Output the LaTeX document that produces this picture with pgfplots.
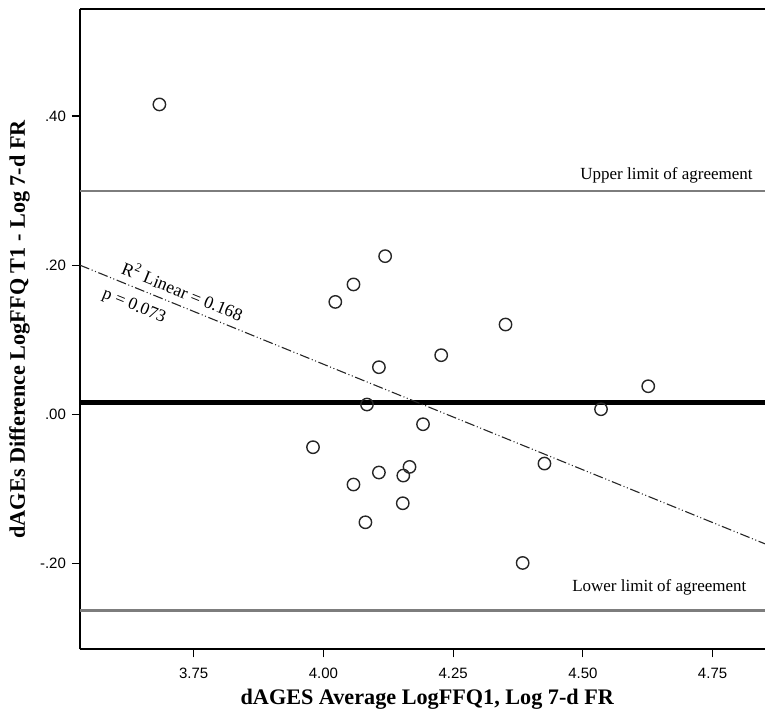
\documentclass[border=0pt]{standalone}
\usepackage{fontspec}
\setmainfont{Liberation Serif}
\newfontfamily\arialf{Liberation Sans}
\usepackage{pgfplots}
\pgfplotsset{compat=1.18}
\usetikzlibrary{calc}
\definecolor{limgray}{RGB}{125,125,125}
\begin{document}
\begin{tikzpicture}
\begin{axis}[
    scale only axis,
    width=342.5pt, height=320pt,
    xmin=3.531, xmax=4.851,
    ymin=-0.3146, ymax=0.543,
    axis x line*=box, axis y line*=left,
    axis line style={-, line width=1.1pt, black},
    tick pos=left,
    tick align=outside,
    major tick length=4pt,
    tick style={line width=0.6pt, black},
    xtick={3.75,4.00,4.25,4.50,4.75},
    xticklabels={3.75,4.00,4.25,4.50,4.75},
    ytick={-0.2,0,0.2,0.4},
    yticklabels={-.20,.00,.20,.40},
    tick label style={font=\arialf\fontsize{7.5}{9}\selectfont},
    xticklabel style={yshift=-2pt},
    yticklabel style={xshift=0.5pt},
    xlabel={dAGES Average LogFFQ1, Log 7-d FR},
    ylabel={dAGEs Difference LogFFQ T1 - Log 7-d FR},
    label style={font=\bfseries\fontsize{11.1}{13}\selectfont},
    xlabel style={at={(axis description cs:0.507,-0.0859)}, anchor=base},
    ylabel style={at={(axis description cs:-0.0803,0.5)}, anchor=base, rotate=0},
]
\coordinate (sw) at (rel axis cs:0,0);
\coordinate (ne) at (rel axis cs:1,1);

% limits of agreement and mean difference
\addplot[limgray, line width=1.3pt] coordinates {(3.531,0.2997) (4.851,0.2997)};
\addplot[limgray, line width=1.3pt] coordinates {(3.531,-0.2623) (4.851,-0.2623)};
\addplot[black, line width=2.5pt] coordinates {(3.531,0.0165) (4.851,0.0165)};

% fit line
\addplot[black!85, line width=0.55pt,
    dash pattern=on 5pt off 1.3pt on 0.5pt off 1.3pt on 0.5pt off 1.3pt]
    coordinates {(3.531,0.2001) (4.851,-0.1733)};

% data points
\addplot[only marks, mark=o, mark size=3.1pt,
    mark options={line width=0.7pt, draw=black!85}]
    coordinates {
    (3.684,0.4155) (4.119,0.2122) (4.058,0.1743) (4.023,0.1509)
    (4.351,0.1206) (4.227,0.0795) (4.107,0.0634) (4.626,0.0379)
    (4.084,0.0134) (4.535,0.0071) (4.192,-0.0130) (3.980,-0.0438)
    (4.426,-0.0657) (4.166,-0.0702) (4.107,-0.0777) (4.154,-0.0818)
    (4.058,-0.0938) (4.153,-0.1189) (4.081,-0.1444) (4.384,-0.1989)
    };

\node[anchor=base east, font=\fontsize{8.5}{10}\selectfont, inner sep=0pt]
    at (axis cs:4.828,0.315) {Upper limit of agreement};
\node[anchor=base east, font=\fontsize{8.5}{10}\selectfont, inner sep=0pt]
    at (axis cs:4.816,-0.2378) {Lower limit of agreement};
\node[anchor=south, rotate=-22.13, font=\fontsize{8.9}{10}\selectfont, inner sep=3.6pt]
    at (axis cs:3.718,0.1472) {R\textsuperscript{2} Linear = 0.168};
\node[anchor=north, rotate=-22.13, font=\fontsize{8.7}{10}\selectfont, inner sep=5pt]
    at (axis cs:3.648,0.1670) {p = 0.073};
\end{axis}
\pgfresetboundingbox
\path[use as bounding box] ($(sw)+(-40pt,-34pt)$) rectangle ($(ne)+(0pt,4.65pt)$);
\end{tikzpicture}
\end{document}
